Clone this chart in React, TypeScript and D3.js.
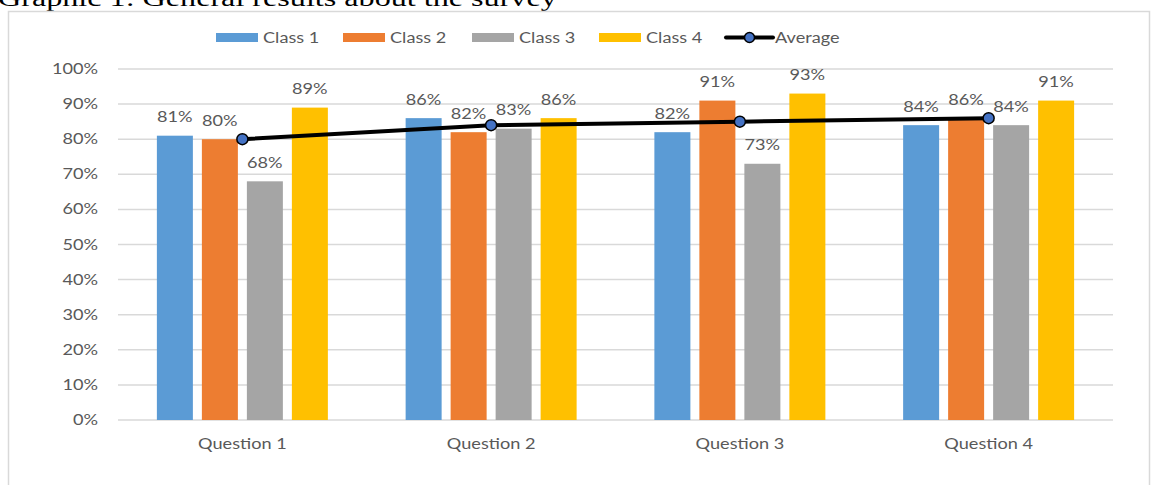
import React from 'react';
import * as d3 from 'd3';

const questions = ['Question 1', 'Question 2', 'Question 3', 'Question 4'];
const classes = ['Class 1', 'Class 2', 'Class 3', 'Class 4'];
const class1 = [0.81, 0.86, 0.82, 0.84];
const class2 = [0.80, 0.82, 0.91, 0.86];
const class3 = [0.68, 0.83, 0.73, 0.84];
const class4 = [0.89, 0.86, 0.93, 0.91];
const average = [0.80, 0.84, 0.85, 0.86];
const yTicks = [0, 0.1, 0.2, 0.3, 0.4, 0.5, 0.6, 0.7, 0.8, 0.9, 1.0];

const colors = ['#5B9BD5', '#ED7D31', '#A5A5A5', '#FFC000'];
const series = [class1, class2, class3, class4];

const W = 1152;
const H = 485;
const SX = 1.25; // text in the picture is stretched horizontally
const FONT = 'Lato, "Open Sans", sans-serif';
const GRAY = '#595959';

// stretched text helper
function T(props: any) {
    const {x, y, anchor, size, fill, family, sx, children} = props;
    return <text transform={`translate(${x},${y}) scale(${sx || SX},1)`}
        textAnchor={anchor || 'start'}
        fontSize={size || 14.5}
        fill={fill || GRAY}
        fontFamily={family || FONT}>{children}</text>;
}

export default function App() {
    const x0 = d3.scaleBand<string>()
        .domain(questions)
        .range([118, 1113])
        .paddingInner(0)
        .paddingOuter(0);
    const x1 = d3.scaleBand<string>()
        .domain(classes)
        .range([0, x0.bandwidth()])
        .paddingInner(0.2)
        .paddingOuter(0.864);
    const y = d3.scaleLinear().domain([0, 1]).range([420, 69]);
    const pct = d3.format('.0%');

    const line = d3.line<number>()
        .x((d, i) => x0(questions[i])! + x0.bandwidth() / 2)
        .y(d => y(d));

    const legendX = [216, 343, 472, 599];

    return (
        <svg width={W} height={H} style={{position: 'absolute', left: 0, top: 0}}>
            <rect x={0} y={0} width={W} height={H} fill="#fff" />
            <T x={-2} y={6} size={24} fill="#000" family='"Liberation Serif", "Times New Roman", serif' sx={1.34}>
                Graphic 1: General results about the survey
            </T>
            <rect x={8.5} y={11.5} width={1141} height={490} fill="#fff" stroke="#D9D9D9" strokeWidth={1.5} />

            {/* legend */}
            {classes.map((c, i) => (
                <g key={c}>
                    <rect x={legendX[i]} y={33} width={42} height={9} fill={colors[i]} />
                    <T x={legendX[i] + 47} y={42.5}>{c}</T>
                </g>
            ))}
            <line x1={726} x2={773} y1={37.5} y2={37.5} stroke="#000" strokeWidth={4} strokeLinecap="round" />
            <circle cx={749.5} cy={37.5} r={5} fill="#4472C4" stroke="#000" strokeWidth={1.5} />
            <T x={775} y={42.5}>Average</T>

            {/* grid + y axis */}
            {yTicks.map(t => (
                <g key={t}>
                    <line x1={118} x2={1113} y1={y(t)} y2={y(t)} stroke="#D9D9D9" strokeWidth={1.5} />
                    <T x={98} y={y(t) + 5} anchor="end">{pct(t)}</T>
                </g>
            ))}

            {/* bars */}
            {series.map((s, si) => s.map((v, qi) => (
                <rect key={si + '-' + qi}
                    x={x0(questions[qi])! + x1(classes[si])!}
                    y={y(v)}
                    width={x1.bandwidth()}
                    height={y(0) - y(v)}
                    fill={colors[si]} />
            )))}

            {/* average line */}
            <path d={line(average)!} fill="none" stroke="#000" strokeWidth={4} />
            {average.map((v, i) => (
                <circle key={i} cx={x0(questions[i])! + x0.bandwidth() / 2} cy={y(v)} r={5.5}
                    fill="#4472C4" stroke="#000" strokeWidth={1.5} />
            ))}

            {/* data labels */}
            {series.map((s, si) => s.map((v, qi) => (
                <T key={'l' + si + '-' + qi}
                    x={x0(questions[qi])! + x1(classes[si])! + x1.bandwidth() / 2}
                    y={y(v) - 13.5}
                    anchor="middle">{pct(v)}</T>
            )))}

            {/* x labels */}
            {questions.map(q => (
                <T key={q} x={x0(q)! + x0.bandwidth() / 2} y={449} anchor="middle">{q}</T>
            ))}
        </svg>
    );
}
